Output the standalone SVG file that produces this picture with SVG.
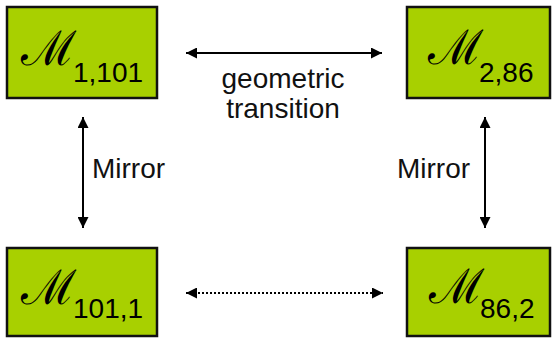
<svg xmlns="http://www.w3.org/2000/svg" width="555" height="338" viewBox="0 0 555 338">
<defs>
<style>
.box{fill:#a8d000;stroke:#111;stroke-width:2.5}
.m{font-family:"DejaVu Serif",serif;font-size:48px;fill:#000}
.sub{font-family:"Liberation Sans",Arial,sans-serif;font-size:28px;fill:#000}
.lbl{font-family:"Liberation Sans",Arial,sans-serif;font-size:28px;fill:#111}
.conn{stroke:#000;stroke-width:2;fill:none}
.dot{stroke:#000;stroke-width:2;stroke-dasharray:2 2;fill:none}
</style>
<marker id="ah" viewBox="0 0 10 10" refX="10" refY="5" markerWidth="6" markerHeight="5.5" orient="auto-start-reverse" markerUnits="strokeWidth">
<path d="M0,0 L10,5 L0,10 Z" fill="#000"/>
</marker>
</defs>
<rect width="555" height="338" fill="#fff"/>
<g id="n1">
<rect class="box" x="7" y="7" width="150" height="91"/>
<text class="m" x="21" y="65">ℳ</text>
<text class="sub" x="73" y="82">1,101</text>
</g>
<g id="n2">
<rect class="box" x="407" y="7" width="143" height="91"/>
<text class="m" x="428" y="64">ℳ</text>
<text class="sub" x="479" y="82">2,86</text>
</g>
<g id="n3">
<rect class="box" x="7" y="248" width="150" height="88"/>
<text class="m" x="21" y="304">ℳ</text>
<text class="sub" x="73" y="318">101,1</text>
</g>
<g id="n4">
<rect class="box" x="407" y="248" width="143" height="88"/>
<text class="m" x="429" y="303">ℳ</text>
<text class="sub" x="480" y="318">86,2</text>
</g>
<g id="connectors">
<line class="conn" x1="186" y1="53" x2="382" y2="53" marker-start="url(#ah)" marker-end="url(#ah)"/>
<line class="conn" x1="83" y1="117" x2="83" y2="228" marker-start="url(#ah)" marker-end="url(#ah)"/>
<line class="conn" x1="485" y1="117" x2="485" y2="228" marker-start="url(#ah)" marker-end="url(#ah)"/>
<line class="dot" x1="186" y1="293" x2="383" y2="293" marker-start="url(#ah)" marker-end="url(#ah)"/>
</g>
<text class="lbl" x="283" y="88" text-anchor="middle">geometric</text>
<text class="lbl" x="283" y="118" text-anchor="middle">transition</text>
<text class="lbl" x="92" y="178">Mirror</text>
<text class="lbl" x="397" y="178">Mirror</text>
</svg>
